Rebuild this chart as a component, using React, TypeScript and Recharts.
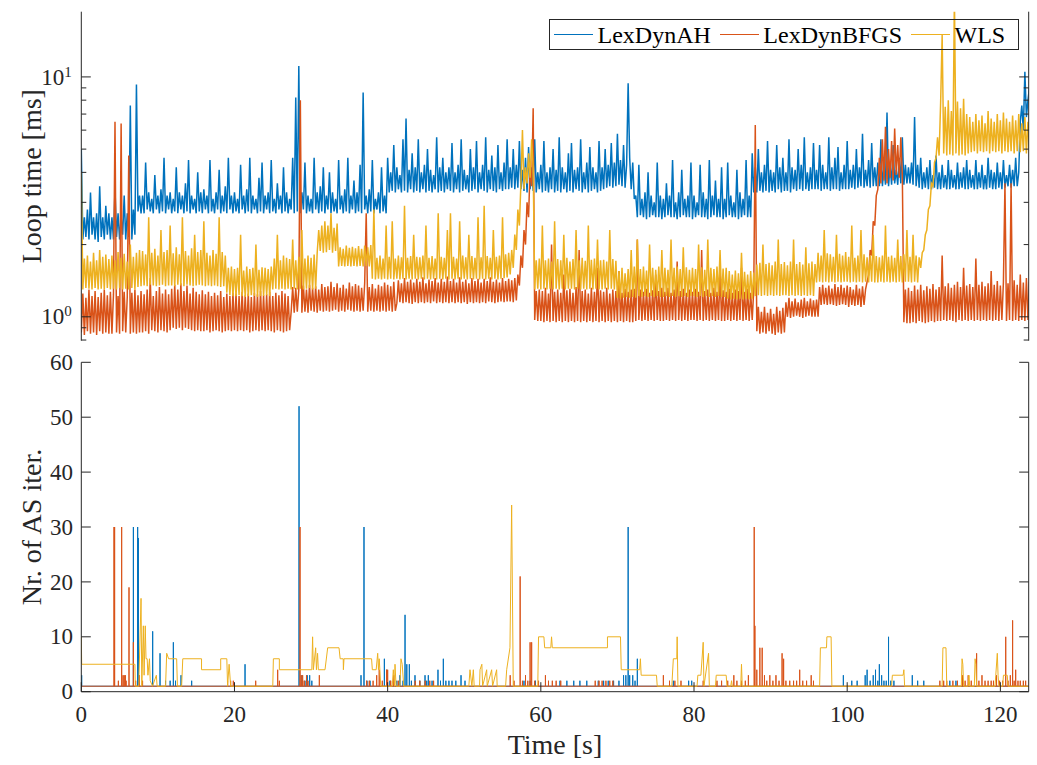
import { LineChart, Line, XAxis, YAxis, Legend } from 'recharts'

// top panel: loop time in ms, one sample every STEP seconds (20 samples per row = 4 s)
const STEP = 0.2
const T_MAX = 123.7

const LOOP_AH = [
  5.0, 2.1, 2.6, 2.15, 2.8, 2.1, 3.3, 2.2, 2.6, 2.1, 2.7, 2.05, 3.5, 2.15, 2.6, 2.1, 2.9, 2.2, 2.7, 2.1,
  2.6, 2.1, 3.4, 2.15, 2.7, 2.1, 2.6, 2.2, 3.2, 2.1, 2.7, 2.15, 7.6, 2.1, 2.8, 2.2, 9.3, 2.75, 3.2, 2.7,
  3.2, 2.7, 4.4, 2.8, 3.3, 2.75, 3.1, 2.7, 3.9, 2.8, 3.2, 2.7, 3.4, 2.75, 4.6, 2.7, 3.2, 2.8, 3.3, 2.7,
  3.1, 2.75, 4.2, 2.7, 3.3, 2.8, 3.2, 2.7, 3.6, 2.75, 4.5, 2.7, 3.2, 2.8, 3.1, 2.7, 4.0, 2.75, 3.3, 2.7,
  3.4, 2.8, 3.2, 2.7, 4.5, 2.75, 3.1, 2.7, 3.3, 2.8, 4.1, 2.7, 3.2, 2.75, 3.5, 2.7, 4.6, 2.8, 3.2, 2.7,
  3.3, 2.75, 3.1, 2.7, 4.3, 2.8, 3.2, 2.7, 3.4, 2.75, 4.6, 2.7, 3.2, 2.8, 3.1, 2.7, 3.8, 2.75, 4.4, 2.7,
  3.2, 2.8, 3.3, 2.7, 4.5, 2.75, 3.1, 2.7, 3.6, 2.8, 3.2, 2.7, 4.2, 2.75, 3.3, 2.7, 3.1, 2.8, 4.6, 2.7,
  8.2, 2.75, 11.1, 2.7, 3.3, 2.8, 4.4, 2.7, 3.2, 2.75, 3.1, 2.7, 4.6, 2.8, 3.3, 2.7, 3.5, 2.75, 4.2, 2.7,
  3.2, 2.8, 4.0, 2.7, 3.3, 2.75, 3.1, 2.7, 4.5, 2.8, 3.2, 2.7, 3.4, 2.75, 4.6, 2.7, 3.2, 2.8, 3.7, 2.7,
  3.3, 2.75, 4.3, 2.7, 8.6, 2.8, 3.2, 2.7, 3.4, 2.75, 4.5, 2.7, 3.1, 2.8, 3.3, 2.7, 4.2, 2.75, 3.2, 2.7,
  4.6, 3.3, 4.0, 3.35, 5.2, 3.3, 4.2, 3.4, 3.9, 3.3, 5.5, 3.35, 6.7, 3.3, 4.1, 3.4, 4.8, 3.3, 4.2, 3.35,
  5.5, 3.3, 4.0, 3.4, 4.3, 3.3, 5.0, 3.35, 4.1, 3.3, 3.9, 3.4, 5.6, 3.3, 4.2, 3.35, 4.6, 3.3, 4.0, 3.4,
  4.2, 3.35, 5.3, 3.3, 4.0, 3.4, 4.3, 3.3, 5.5, 3.35, 4.1, 3.4, 3.9, 3.3, 5.0, 3.35, 4.2, 3.4, 5.4, 3.3,
  4.0, 3.4, 4.3, 3.35, 5.6, 3.3, 4.1, 3.4, 4.7, 3.35, 4.2, 3.3, 5.2, 3.4, 4.0, 3.35, 4.4, 3.4, 5.5, 3.4,
  4.2, 3.45, 5.0, 3.4, 4.3, 3.45, 5.4, 3.4, 4.1, 3.35, 4.6, 3.3, 5.1, 3.4, 4.2, 3.35, 5.5, 3.3, 4.0, 3.4,
  4.3, 3.3, 5.4, 3.35, 4.0, 3.3, 4.2, 3.4, 5.0, 3.3, 4.1, 3.35, 5.6, 3.3, 4.2, 3.4, 4.0, 3.3, 4.8, 3.35,
  5.3, 3.3, 4.1, 3.4, 4.2, 3.35, 5.5, 3.3, 4.0, 3.4, 4.4, 3.3, 5.1, 3.35, 4.2, 3.4, 4.0, 3.3, 5.4, 3.35,
  4.2, 3.4, 5.0, 3.45, 4.3, 3.5, 5.3, 3.45, 4.4, 3.5, 5.8, 3.55, 4.5, 3.5, 5.2, 3.45, 4.3, 9.4, 4.6, 3.4,
  4.4, 3.1, 3.2, 2.6, 4.3, 2.65, 3.1, 2.6, 3.3, 2.55, 4.0, 2.6, 3.2, 2.65, 3.0, 2.6, 4.4, 2.6, 3.2, 2.55,
  3.1, 2.6, 3.6, 2.65, 3.2, 2.6, 4.5, 2.6, 3.0, 2.55, 3.3, 2.6, 4.1, 2.65, 3.1, 2.6, 3.2, 2.6, 4.4, 2.55,
  3.2, 2.6, 3.0, 2.65, 4.3, 2.6, 3.3, 2.6, 3.1, 2.55, 4.5, 2.6, 3.2, 2.65, 3.7, 2.6, 3.1, 2.6, 4.2, 2.55,
  3.1, 2.6, 4.4, 2.65, 3.2, 2.6, 3.0, 2.6, 4.1, 2.55, 3.3, 2.6, 3.1, 2.65, 4.5, 2.6, 3.2, 2.6, 4.8, 3.3,
  4.2, 3.3, 5.0, 3.35, 4.0, 3.3, 4.3, 3.35, 5.4, 3.3, 4.1, 3.35, 4.0, 3.3, 5.2, 3.4, 4.2, 3.3, 4.6, 3.35,
  4.0, 3.35, 5.5, 3.3, 4.2, 3.4, 4.1, 3.35, 5.0, 3.4, 4.3, 3.35, 5.6, 3.4, 4.0, 3.35, 4.2, 3.4, 5.3, 3.4,
  4.1, 3.4, 5.2, 3.35, 4.3, 3.4, 4.0, 3.4, 5.6, 3.35, 4.2, 3.4, 4.6, 3.4, 5.1, 3.35, 4.0, 3.4, 4.3, 3.4,
  5.4, 3.4, 4.1, 3.45, 4.3, 3.4, 5.0, 3.45, 4.2, 3.5, 5.8, 3.45, 4.1, 3.5, 4.5, 3.45, 5.3, 3.5, 4.2, 3.5,
  4.4, 3.5, 5.5, 3.5, 4.2, 3.55, 7.1, 3.5, 4.3, 3.55, 5.2, 3.6, 4.1, 3.55, 4.6, 3.6, 5.6, 3.55, 4.3, 3.6,
  4.2, 3.6, 4.4, 3.55, 6.8, 3.5, 4.3, 3.45, 4.6, 3.4, 4.0, 3.45, 4.2, 3.4, 4.5, 3.4, 3.9, 3.45, 4.7, 3.4,
  4.0, 3.4, 4.3, 3.45, 3.9, 3.4, 4.5, 3.4, 4.1, 3.45, 3.9, 3.4, 4.4, 3.4, 4.0, 3.45, 4.2, 3.4, 4.5, 3.4,
  4.1, 3.45, 3.9, 3.4, 4.5, 3.4, 4.0, 3.45, 4.3, 3.4, 3.9, 3.4, 4.6, 3.45, 4.1, 3.4, 4.0, 3.4, 4.4, 3.45,
  4.0, 3.4, 4.5, 3.45, 3.9, 3.5, 4.3, 3.45, 4.1, 3.5, 4.6, 3.5, 4.0, 6.5, 7.6, 6.0, 10.5, 6.8, 8.0, 9.0,
]

const LOOP_BFGS = [
  0.86, 1.25, 0.84, 1.2, 0.87, 1.3, 0.85, 1.22, 0.86, 1.28, 0.84, 1.21, 0.87, 1.26, 0.85, 1.3, 0.86, 1.23, 0.85, 1.27,
  0.85, 1.24, 6.5, 0.86, 1.22, 0.85, 6.4, 0.87, 1.27, 0.86, 1.21, 4.7, 0.85, 1.26, 0.86, 1.3, 0.85, 1.23, 0.86, 1.28,
  0.86, 1.24, 0.87, 1.3, 0.85, 1.45, 0.88, 1.22, 0.87, 1.28, 0.86, 1.33, 0.88, 1.25, 0.87, 1.3, 0.86, 1.24, 0.88, 1.31,
  0.9, 1.36, 0.89, 1.3, 0.9, 1.38, 0.88, 1.28, 0.9, 1.35, 0.89, 1.25, 0.88, 1.32, 0.87, 1.27, 0.88, 1.24, 0.87, 1.29,
  0.87, 1.24, 0.88, 1.27, 0.86, 1.22, 0.87, 1.26, 0.88, 1.23, 0.87, 1.28, 0.86, 1.21, 0.87, 1.25, 0.88, 1.22, 0.87, 1.26,
  0.88, 1.25, 0.87, 1.22, 0.88, 1.27, 0.87, 1.23, 0.88, 1.25, 0.86, 1.21, 0.87, 1.26, 0.88, 1.24, 0.87, 1.28, 0.88, 1.23,
  0.87, 1.24, 0.88, 1.27, 0.87, 1.22, 0.86, 1.26, 0.88, 1.23, 0.87, 1.28, 0.86, 1.25, 0.87, 1.22, 0.88, 1.05, 1.33, 1.04,
  1.32, 1.05, 1.3, 8.0, 1.04, 1.35, 1.05, 1.3, 1.04, 1.36, 1.06, 1.32, 1.05, 1.34, 1.04, 1.3, 1.06, 1.37, 1.05, 1.33,
  1.06, 1.34, 1.05, 1.4, 1.06, 1.33, 1.07, 1.38, 1.05, 1.32, 1.06, 1.36, 1.05, 1.31, 1.07, 1.39, 1.06, 1.34, 1.05, 1.37,
  1.06, 1.35, 1.05, 1.32, 1.06, 1.38, 2.7, 1.05, 1.33, 1.06, 1.37, 1.05, 1.31, 1.06, 1.36, 1.05, 1.34, 1.06, 1.39, 1.05,
  1.36, 1.06, 1.34, 1.05, 1.4, 1.06, 1.14, 1.42, 1.15, 1.38, 1.14, 1.45, 1.15, 1.4, 1.14, 1.43, 1.13, 1.39, 1.15, 1.44,
  1.14, 1.4, 1.15, 1.46, 1.14, 1.38, 1.15, 1.43, 1.14, 1.41, 1.16, 1.45, 1.14, 1.39, 1.15, 1.44, 1.14, 1.4, 1.15, 1.47,
  1.14, 1.41, 1.15, 1.44, 1.14, 1.39, 1.15, 1.46, 1.14, 1.4, 1.15, 1.43, 1.13, 1.38, 1.15, 1.45, 1.14, 1.41, 1.15, 1.44,
  1.14, 1.39, 1.15, 1.44, 1.14, 1.41, 1.16, 1.46, 1.15, 1.4, 1.14, 1.43, 1.15, 1.39, 1.16, 1.45, 1.15, 1.41, 1.16, 1.44,
  1.16, 1.42, 1.15, 1.45, 1.17, 1.5, 1.35, 1.8, 1.6, 2.3, 2.0, 3.0, 2.6, 4.2, 3.5, 7.4, 0.97, 1.28, 0.96, 1.3,
  0.96, 1.28, 0.95, 1.32, 0.96, 1.25, 0.95, 2.0, 0.96, 1.27, 0.95, 1.3, 0.96, 1.26, 0.95, 1.5, 0.96, 1.29, 0.95, 1.31,
  0.96, 1.26, 0.95, 1.33, 0.96, 1.9, 0.95, 1.28, 0.96, 1.3, 0.95, 1.25, 0.96, 1.32, 0.95, 1.27, 0.96, 1.6, 0.95, 1.29,
  0.96, 1.27, 0.95, 1.32, 0.96, 1.25, 0.95, 1.3, 0.96, 1.28, 0.95, 1.55, 0.96, 1.26, 0.95, 1.31, 0.96, 1.27, 0.95, 1.3,
  0.95, 1.31, 0.96, 2.1, 0.97, 1.3, 0.96, 1.27, 0.97, 1.31, 0.96, 1.26, 0.97, 1.29, 0.96, 1.5, 0.97, 1.28, 0.96, 1.32,
  0.96, 1.27, 0.97, 1.32, 0.96, 1.26, 0.97, 1.3, 0.96, 1.7, 0.97, 1.28, 0.96, 1.31, 0.97, 1.26, 0.96, 1.3, 0.97, 1.27,
  0.97, 1.31, 0.96, 1.27, 0.97, 1.9, 0.96, 1.28, 0.97, 1.3, 0.96, 1.26, 0.97, 1.32, 0.96, 1.27, 0.97, 1.55, 0.96, 1.29,
  0.96, 1.27, 0.97, 1.31, 0.96, 1.26, 0.97, 1.3, 0.96, 1.28, 0.97, 1.6, 0.96, 1.27, 0.97, 1.31, 0.96, 1.26, 0.97, 1.3,
  6.3, 0.87, 1.1, 0.85, 1.05, 0.86, 1.1, 0.85, 1.04, 0.87, 1.08, 0.85, 1.03, 0.84, 1.1, 0.86, 1.06, 0.85, 1.09, 0.86,
  1.15, 1.0, 1.2, 0.99, 1.16, 1.0, 1.19, 1.01, 1.15, 1.0, 1.18, 0.99, 1.2, 1.0, 1.16, 1.01, 1.19, 1.0, 1.17, 1.0,
  1.18, 1.0, 1.33, 1.12, 1.36, 1.13, 1.32, 1.12, 1.35, 1.13, 1.31, 1.12, 1.37, 1.11, 1.33, 1.12, 1.36, 1.13, 1.32, 1.12,
  1.35, 1.1, 1.33, 1.12, 1.3, 1.11, 1.36, 1.12, 1.31, 1.1, 1.34, 1.12, 1.3, 1.4, 1.5, 1.9, 1.8, 2.5, 2.4, 3.2,
  3.4, 4.6, 3.6, 5.5, 3.7, 6.2, 3.6, 5.0, 3.8, 5.4, 3.7, 6.1, 3.9, 5.2, 3.8, 5.6, 3.9, 0.95, 1.3, 0.94,
  1.32, 0.94, 1.28, 0.95, 1.35, 0.94, 1.3, 0.96, 1.36, 0.95, 1.29, 0.94, 1.34, 0.95, 1.31, 0.96, 1.37, 0.95, 1.3, 0.96,
  1.33, 0.96, 1.8, 0.97, 1.34, 0.96, 1.38, 0.97, 1.32, 0.96, 1.36, 0.95, 1.4, 0.97, 1.33, 0.96, 1.6, 0.97, 1.35, 0.96,
  1.37, 0.97, 1.33, 0.96, 1.75, 0.97, 1.36, 0.96, 1.4, 0.97, 1.34, 0.96, 1.38, 0.97, 1.55, 0.96, 1.36, 0.97, 1.41, 0.96,
  1.35, 0.97, 1.4, 3.6, 0.96, 1.38, 0.97, 3.6, 0.96, 1.42, 0.97, 1.36, 0.96, 1.5, 0.97, 1.39, 0.96, 1.45, 0.97, 1.4,
]

const LOOP_WLS = [
  4.0, 1.3, 1.75, 1.32, 1.8, 1.31, 1.7, 1.3, 1.85, 1.32, 1.72, 1.3, 1.9, 1.31, 1.78, 1.3, 1.82, 1.32, 1.74, 1.3,
  1.8, 1.31, 1.72, 1.3, 1.86, 1.32, 1.76, 1.3, 1.83, 1.31, 1.7, 1.3, 2.0, 1.32, 1.78, 1.3, 1.85, 1.33, 1.9, 1.34,
  1.88, 1.35, 1.82, 1.34, 2.6, 1.36, 1.85, 1.35, 1.92, 1.34, 1.8, 1.35, 2.3, 1.36, 1.86, 1.34, 1.9, 1.35, 2.4, 1.35,
  1.84, 1.34, 1.95, 1.36, 1.82, 1.35, 2.6, 1.34, 1.88, 1.36, 1.8, 1.35, 1.93, 1.34, 2.2, 1.35, 1.86, 1.36, 1.9, 1.35,
  2.5, 1.34, 1.85, 1.35, 1.8, 1.34, 1.9, 1.35, 1.83, 1.34, 2.6, 1.33, 1.86, 1.34, 1.8, 1.26, 1.6, 1.23, 1.62, 1.22,
  1.58, 1.22, 1.6, 1.23, 2.2, 1.22, 1.56, 1.21, 1.62, 1.22, 1.58, 1.23, 1.6, 1.22, 2.0, 1.21, 1.57, 1.22, 1.61, 1.22,
  1.6, 1.23, 1.58, 1.22, 1.62, 1.3, 1.75, 1.31, 2.2, 1.3, 1.72, 1.31, 1.8, 1.3, 1.76, 1.31, 1.74, 1.3, 2.1, 1.31,
  1.72, 1.3, 1.78, 1.31, 2.3, 1.3, 1.75, 1.31, 1.8, 1.32, 1.76, 1.3, 1.82, 1.31, 1.85, 2.3, 1.88, 2.4, 1.85, 2.5,
  1.86, 2.4, 1.9, 2.7, 1.85, 2.35, 1.88, 2.45, 1.62, 1.95, 1.63, 1.92, 1.62, 1.98, 1.63, 1.94, 1.62, 1.96, 1.63, 1.93,
  1.62, 1.97, 1.63, 1.92, 1.62, 1.98, 1.63, 1.95, 1.62, 1.99, 1.44, 2.8, 1.43, 1.76, 1.44, 1.8, 1.43, 1.75, 1.44, 2.4,
  1.43, 1.78, 1.44, 2.5, 1.43, 1.75, 1.44, 1.8, 1.43, 1.77, 1.44, 2.9, 1.43, 1.76, 1.44, 1.79, 1.43, 2.2, 1.44, 1.78,
  1.43, 1.77, 1.44, 1.8, 1.43, 2.4, 1.44, 1.76, 1.43, 1.79, 1.44, 1.75, 1.43, 2.7, 1.44, 1.78, 1.43, 1.76, 1.44, 2.3,
  1.43, 2.7, 1.44, 1.78, 1.43, 1.75, 1.44, 2.5, 1.43, 1.8, 1.44, 1.77, 1.43, 2.2, 1.44, 1.79, 1.43, 1.76, 1.44, 2.6,
  1.43, 1.77, 1.44, 2.9, 1.43, 1.79, 1.44, 1.76, 1.43, 2.3, 1.44, 1.78, 1.43, 1.8, 1.44, 2.6, 1.45, 1.82, 1.46, 1.85,
  1.5, 1.9, 1.6, 2.2, 1.9, 2.8, 2.4, 3.6, 6.0, 3.4, 4.2, 3.6, 4.8, 3.8, 5.5, 4.2, 1.3, 1.72, 1.31, 1.75,
  1.3, 2.4, 1.31, 1.72, 1.3, 1.75, 1.31, 1.7, 1.3, 2.5, 1.31, 1.74, 1.3, 1.72, 1.31, 2.2, 1.3, 1.76, 1.31, 1.7,
  1.31, 1.74, 1.3, 2.3, 1.31, 1.72, 1.3, 1.76, 1.31, 1.71, 1.3, 2.4, 1.31, 1.73, 1.3, 1.75, 1.31, 2.1, 1.3, 1.72,
  1.3, 1.73, 1.31, 1.7, 1.3, 2.3, 1.31, 1.74, 1.3, 1.71, 1.2, 1.55, 1.19, 1.6, 1.2, 1.52, 1.21, 1.58, 1.2, 1.9,
  1.21, 1.62, 1.2, 2.1, 1.22, 1.58, 1.21, 1.62, 1.22, 1.56, 1.21, 2.0, 1.22, 1.6, 1.21, 1.57, 1.22, 1.62, 1.21, 1.9,
  1.21, 1.6, 1.22, 1.57, 1.21, 2.1, 1.22, 1.6, 1.21, 1.62, 1.22, 1.58, 1.21, 1.95, 1.22, 1.61, 1.21, 1.57, 1.22, 1.6,
  1.22, 1.58, 1.21, 2.0, 1.22, 1.61, 1.21, 1.57, 1.22, 2.1, 1.21, 1.6, 1.22, 1.58, 1.21, 1.62, 1.22, 1.9, 1.21, 1.59,
  1.21, 1.6, 1.19, 1.55, 1.18, 1.5, 1.19, 1.56, 1.18, 1.52, 1.19, 1.85, 1.18, 1.54, 1.19, 1.5, 1.18, 1.55, 1.19, 1.53,
  1.22, 1.65, 1.23, 1.68, 1.22, 2.0, 1.23, 1.66, 1.22, 1.68, 1.23, 1.64, 1.22, 1.7, 1.23, 2.1, 1.22, 1.66, 1.23, 1.69,
  1.23, 1.64, 1.22, 1.7, 1.23, 2.1, 1.22, 1.66, 1.23, 1.69, 1.22, 1.65, 1.23, 1.95, 1.22, 1.67, 1.23, 1.7, 1.22, 1.66,
  1.39, 1.85, 1.4, 1.8, 1.39, 2.3, 1.4, 1.84, 1.39, 1.82, 1.4, 1.78, 1.39, 2.2, 1.4, 1.83, 1.39, 1.8, 1.4, 1.86,
  1.4, 1.78, 1.39, 2.4, 1.4, 1.76, 1.39, 1.8, 1.4, 2.3, 1.39, 1.82, 1.4, 1.77, 1.39, 1.8, 1.4, 2.2, 1.39, 1.79,
  1.39, 1.77, 1.4, 1.8, 1.39, 2.4, 1.4, 1.78, 1.39, 1.8, 1.4, 1.76, 1.39, 2.1, 1.4, 1.79, 1.39, 1.82, 1.4, 2.3,
  1.4, 1.78, 1.39, 2.2, 1.4, 1.8, 1.39, 1.77, 1.6, 1.85, 1.9, 2.2, 2.3, 2.8, 2.9, 3.6, 3.5, 4.4, 4.6, 5.6,
  4.7, 7.8, 15.0, 4.8, 7.5, 4.7, 8.0, 4.75, 7.2, 4.7, 22, 4.8, 7.9, 4.7, 7.4, 4.75, 8.1, 4.7, 7.0, 4.8,
  6.8, 4.85, 6.5, 4.9, 7.0, 4.8, 6.6, 4.9, 6.9, 4.85, 6.4, 4.9, 7.2, 4.8, 6.7, 4.9, 6.5, 4.85, 7.0, 4.9,
  6.6, 4.8, 7.1, 4.9, 6.7, 4.85, 6.5, 4.9, 6.9, 4.8, 6.6, 4.9, 7.0, 4.85, 6.4, 4.9, 6.8, 4.8, 6.5, 4.9,
]

// bottom panel: [time s, AS iterations] spikes above the resting value of 1
const AS_AH: [number, number][] = [
  [0.05, 3], [6.8, 30], [7.36, 30], [7.45, 28], [9.32, 11], [10.28, 7], [11.0, 2], [11.6, 2],
  [12.02, 9], [12.3, 2], [13.02, 3], [14.41, 2], [21.38, 5], [28.43, 52], [28.8, 3], [29.2, 2],
  [29.5, 3], [29.82, 3], [30.1, 2], [36.52, 3], [36.91, 30], [37.3, 2], [37.7, 2], [39.57, 6],
  [39.87, 4], [40.3, 2], [41.2, 2], [41.6, 3], [42.0, 2], [42.27, 14], [42.5, 5], [42.83, 5],
  [43.1, 2], [43.57, 3], [44.2, 2], [44.88, 3], [45.1, 2], [45.31, 3], [45.8, 2], [46.57, 4],
  [46.9, 2], [47.27, 6], [47.6, 2], [48.0, 2], [48.4, 2], [48.9, 2], [49.58, 3], [50.1, 2],
  [57.8, 2], [58.6, 2], [59.3, 2], [62.5, 2], [63.4, 2], [64.3, 2], [65.1, 2], [66.0, 2],
  [67.5, 2], [68.2, 2], [68.8, 2], [69.5, 2], [70.2, 2], [70.8, 3], [71.1, 3], [71.4, 30],
  [71.6, 3], [72.0, 3], [72.3, 2], [72.6, 6], [77.3, 2], [79.3, 2], [79.7, 2], [99.5, 3],
  [100.6, 2], [101.3, 2], [102.35, 3], [102.6, 4], [103.0, 2], [103.4, 3], [103.7, 4], [104.0, 2],
  [104.2, 5], [104.5, 3], [104.8, 2], [105.1, 2], [105.4, 10], [105.7, 2], [106.1, 2], [108.5, 3],
  [109.2, 2], [110.0, 2], [113.4, 2], [114.2, 2],
]

const AS_BFGS: [number, number][] = [
  [4.27, 30], [4.35, 30], [4.84, 2], [5.27, 30], [5.45, 3], [5.6, 3], [5.75, 3], [5.85, 2],
  [6.23, 19], [6.8, 9], [7.1, 2], [7.6, 3], [8.0, 2], [19.1, 2], [19.5, 2], [19.85, 2],
  [22.77, 2], [25.64, 4], [25.86, 2], [28.56, 30], [28.7, 3], [28.9, 3], [29.1, 2], [29.4, 3],
  [29.6, 2], [31.08, 3], [37.26, 2], [37.6, 2], [38.1, 2], [38.57, 3], [38.9, 4], [39.3, 2],
  [39.87, 4], [40.0, 4], [40.4, 2], [40.8, 3], [41.4, 2], [43.6, 2], [44.2, 2], [44.9, 2],
  [45.5, 2], [46.0, 2], [56.0, 3], [56.5, 2], [57.3, 21], [57.6, 2], [58.0, 3], [58.3, 2],
  [58.6, 9], [58.8, 9], [59.2, 2], [59.7, 2], [60.6, 3], [61.0, 2], [61.5, 2], [62.0, 2],
  [62.6, 2], [67.1, 2], [67.6, 2], [68.0, 2], [68.5, 2], [69.0, 2], [69.4, 2], [76.0, 3],
  [76.8, 2], [77.5, 2], [78.3, 2], [81.2, 2], [83.0, 2], [83.6, 2], [84.4, 2], [85.2, 3],
  [85.6, 2], [86.2, 2], [86.7, 2], [87.1, 3], [87.86, 30], [87.95, 12], [88.2, 4], [88.6, 8],
  [88.9, 8], [89.2, 3], [89.5, 2], [89.9, 3], [90.3, 2], [90.7, 3], [91.1, 2], [91.5, 7],
  [91.7, 6], [92.0, 2], [92.5, 2], [93.0, 2], [93.4, 2], [93.8, 4], [94.2, 2], [94.7, 2],
  [95.3, 3], [95.6, 2], [112.1, 2], [112.6, 2], [113.0, 2], [113.8, 2], [114.4, 2], [115.05, 3],
  [115.4, 2], [115.8, 3], [116.2, 2], [116.9, 7], [117.2, 2], [117.6, 3], [118.0, 2], [118.4, 2],
  [118.8, 2], [119.1, 2], [119.5, 3], [119.9, 2], [120.3, 2], [120.7, 10], [121.0, 2], [121.3, 3],
  [121.6, 13], [121.8, 2], [122.0, 4], [122.3, 2], [122.6, 2], [123.0, 2], [123.3, 2],
]

// WLS traced as a polyline of [time s, iterations]
const AS_WLS: [number, number][] = [
  [0, 10], [0.05, 5], [7.0, 5], [7.05, 1], [7.5, 1], [7.8, 17], [7.9, 1], [8.1, 12], [8.2, 3],
  [8.35, 12], [8.45, 6], [8.6, 6], [8.7, 3], [8.9, 6], [9.0, 2], [9.3, 1], [9.8, 3], [9.9, 1],
  [11.0, 1], [11.15, 7], [11.4, 6], [12.45, 6], [12.55, 1], [13.1, 1], [13.25, 6], [15.7, 6],
  [15.7, 4], [18.2, 4], [18.2, 6], [19.0, 6], [19.1, 1], [19.3, 5], [19.5, 1], [25.0, 1],
  [25.08, 6], [25.86, 6], [25.86, 4], [30.1, 4], [30.2, 10], [30.3, 4], [30.6, 8], [30.7, 4],
  [30.85, 7], [30.95, 4], [31.82, 4], [32.17, 8], [33.65, 8], [33.8, 6], [34.2, 6], [34.22, 4],
  [34.3, 6], [37.9, 6], [38.0, 4], [38.5, 4], [38.7, 7], [38.8, 4], [38.9, 6], [39.1, 1],
  [40.6, 1], [40.74, 4], [40.9, 1], [40.96, 5], [41.1, 1], [41.6, 1], [41.74, 6], [41.9, 5],
  [42.1, 1], [50.6, 1], [50.75, 4], [51.0, 1], [51.19, 4], [51.3, 1], [52.0, 1], [52.06, 4],
  [52.3, 5], [52.4, 1], [52.93, 4], [53.0, 1], [53.58, 4], [53.7, 1], [54.23, 4], [54.3, 1],
  [55.4, 1], [55.54, 4], [55.97, 8], [56.19, 34], [56.4, 1], [59.6, 1], [59.7, 10], [60.4, 10],
  [60.5, 8], [61.3, 8], [61.4, 10], [61.5, 8], [68.7, 8], [68.7, 10], [70.4, 10], [70.5, 4],
  [72.9, 4], [73.0, 6], [73.1, 3], [75.1, 3], [75.2, 1], [77.1, 1], [77.3, 6], [77.75, 6],
  [77.8, 10], [77.9, 1], [80.4, 1], [80.5, 3], [80.9, 3], [81.2, 9], [81.3, 1], [81.9, 7],
  [82.0, 1], [82.8, 1], [82.9, 3], [84.2, 3], [84.3, 1], [84.8, 1], [84.9, 2], [85.0, 1],
  [86.1, 1], [86.2, 5], [86.3, 1], [96.4, 1], [96.5, 8], [97.3, 8], [97.35, 10], [97.9, 10],
  [98.0, 1], [105.8, 1], [105.9, 3], [107.3, 3], [107.4, 4], [107.5, 1], [112.4, 1], [112.5, 8],
  [112.9, 8], [113.0, 1], [114.9, 1], [115.0, 6], [115.1, 5], [115.2, 1], [115.8, 1], [115.9, 3],
  [116.0, 1], [116.6, 1], [116.7, 6], [116.8, 5], [116.9, 1], [119.3, 1], [119.4, 3], [119.6, 7],
  [119.7, 3], [119.8, 1], [120.3, 1], [120.4, 3], [120.9, 3], [121.0, 1], [123.7, 1],
]

const NAMES = ['LexDynAH', 'LexDynBFGS', 'WLS']
const COLORS = ['#0072BD', '#D95319', '#EDB120']

const LOG_TICKS = [0.8, 0.9, 1, 2, 3, 4, 5, 6, 7, 8, 9, 10]
const LOG_MAJOR = [1, 10]
const X_TICKS = [0, 20, 40, 60, 80, 100, 120]
const Y_TICKS = [0, 10, 20, 30, 40, 50, 60]

const FONT = '"Liberation Serif", "DejaVu Serif", serif'
const AXIS = '#262626'
const TICK = 9.5
const MINOR = 5
const BAND_WIDTH = 1.5 // dense loop-time traces

const topData = LOOP_AH.map((ah, i) => ({
  t: i * STEP,
  ah,
  bfgs: LOOP_BFGS[i],
  wls: LOOP_WLS[i],
}))

function spikes(list: [number, number][]) {
  const out = [{ t: 0, v: 1 }]
  list.forEach(([t, h]) => out.push({ t, v: 1 }, { t, v: h }, { t, v: 1 }))
  out.push({ t: T_MAX, v: 1 })
  return out
}
const asAh = spikes(AS_AH)
const asBfgs = spikes(AS_BFGS)
const asWls = AS_WLS.map(([t, v]) => ({ t, v }))

const LogTickLeft = ({ x, y, payload }: any) => {
  const major = LOG_MAJOR.includes(payload.value)
  return (
    <g>
      <line x1={x} x2={x + (major ? TICK : MINOR)} y1={y} y2={y} stroke={AXIS} />
      {major && (
        <text x={x - 9.6} y={y + 7.6} textAnchor="end" fontFamily={FONT} fontSize={23} fill={AXIS}>
          <tspan>10</tspan>
          <tspan dy={-8} fontSize={15}>{Math.round(Math.log10(payload.value))}</tspan>
        </text>
      )}
    </g>
  )
}

const LogTickRight = ({ x, y, payload }: any) => {
  const major = LOG_MAJOR.includes(payload.value)
  return <line x1={x} x2={x - (major ? TICK : MINOR)} y1={y} y2={y} stroke={AXIS} />
}

const LinTickLeft = ({ x, y, payload }: any) => (
  <g>
    <line x1={x} x2={x + TICK} y1={y} y2={y} stroke={AXIS} />
    <text x={x - 8.3} y={y + 7.6} textAnchor="end" fontFamily={FONT} fontSize={23} fill={AXIS}>
      {payload.value}
    </text>
  </g>
)

const LinTickRight = ({ x, y }: any) => <line x1={x} x2={x - TICK} y1={y} y2={y} stroke={AXIS} />

const TimeTickBottom = ({ x, y, payload }: any) => (
  <g>
    <line x1={x} x2={x} y1={y} y2={y - TICK} stroke={AXIS} />
    <text x={x} y={y + 30.5} textAnchor="middle" fontFamily={FONT} fontSize={23} fill={AXIS}>
      {payload.value}
    </text>
  </g>
)

const TimeTickTop = ({ x, y }: any) => <line x1={x} x2={x} y1={y} y2={y + TICK} stroke={AXIS} />

function VTitle({ viewBox, text, x }: any) {
  const cy = viewBox.y + viewBox.height / 2
  return (
    <text x={x} y={cy} transform={`rotate(-90 ${x} ${cy})`} textAnchor="middle"
      fontFamily={FONT} fontSize={28} fill={AXIS}>
      {text}
    </text>
  )
}

function HTitle({ viewBox, text }: any) {
  return (
    <text x={viewBox.x + viewBox.width / 2} y={viewBox.y + 62} textAnchor="middle"
      fontFamily={FONT} fontSize={28} fill={AXIS}>
      {text}
    </text>
  )
}

function LegendBox({ payload }: any) {
  return (
    <div style={{
      boxSizing: 'border-box', width: 470, height: 31, border: `1px solid ${AXIS}`,
      display: 'flex', alignItems: 'center', paddingLeft: 4,
      fontFamily: FONT, fontSize: 24, lineHeight: 1, color: '#000',
    }}>
      {(payload ?? []).map((p: any, i: number) => (
        <div key={p.value} style={{ display: 'flex', alignItems: 'center', marginLeft: i ? 9 : 0 }}>
          <svg width={39} height={3}>
            <line x1={0} x2={39} y1={1.5} y2={1.5} stroke={p.color} strokeWidth={1} />
          </svg>
          <span style={{ marginLeft: 4.5 }}>{p.value}</span>
        </div>
      ))}
    </div>
  )
}

export default function App() {
  const axisLine = { stroke: AXIS, strokeWidth: 1 }
  return (
    <div style={{ position: 'absolute', left: 0, top: 0, width: 1037, height: 765, background: '#fff' }}>
      <div style={{ position: 'absolute', left: 0, top: 0 }}>
        <LineChart width={1037} height={352} data={topData}
          margin={{ top: 11.7, right: 0, bottom: 11.3, left: 0 }}>
          <XAxis xAxisId="b" dataKey="t" type="number" domain={[0, T_MAX]} allowDataOverflow
            height={0} tick={false} tickLine={false} axisLine={axisLine} />
          <XAxis xAxisId="t" orientation="top" dataKey="t" type="number" domain={[0, T_MAX]} allowDataOverflow
            height={0} tick={false} tickLine={false} axisLine={axisLine} />
          <YAxis yAxisId="l" scale="log" type="number" domain={[0.795, 18.7]} allowDataOverflow
            ticks={LOG_TICKS} interval={0} width={81.3} tickSize={0} tickMargin={0} tickLine={false}
            axisLine={axisLine} tick={(p: any) => <LogTickLeft {...p} />}
            label={<VTitle text="Loop time [ms]" x={28} />} />
          <YAxis yAxisId="r" orientation="right" scale="log" type="number" domain={[0.795, 18.7]} allowDataOverflow
            ticks={LOG_TICKS} interval={0} width={8.3} tickSize={0} tickMargin={0} tickLine={false}
            axisLine={axisLine} tick={(p: any) => <LogTickRight {...p} />} />
          <Line xAxisId="b" yAxisId="l" dataKey="ah" name={NAMES[0]} stroke={COLORS[0]} strokeWidth={BAND_WIDTH}
            dot={false} isAnimationActive={false} />
          <Line xAxisId="b" yAxisId="l" dataKey="bfgs" name={NAMES[1]} stroke={COLORS[1]} strokeWidth={BAND_WIDTH}
            dot={false} isAnimationActive={false} />
          <Line xAxisId="b" yAxisId="l" dataKey="wls" name={NAMES[2]} stroke={COLORS[2]} strokeWidth={BAND_WIDTH}
            dot={false} isAnimationActive={false} />
          <Legend layout="horizontal" verticalAlign="middle" align="center" content={LegendBox}
            wrapperStyle={{ top: 19, left: 549, width: 470, height: 31 }} />
        </LineChart>
      </div>
      <div style={{ position: 'absolute', left: 0, top: 330 }}>
        <LineChart width={1037} height={435} margin={{ top: 32.3, right: 0, bottom: 13.3, left: 0 }}>
          <XAxis xAxisId="b" dataKey="t" type="number" domain={[0, T_MAX]} allowDataOverflow
            ticks={X_TICKS} interval={0} height={60} tickSize={0} tickMargin={0} tickLine={false}
            axisLine={axisLine} tick={(p: any) => <TimeTickBottom {...p} />}
            label={<HTitle text="Time [s]" />} />
          <XAxis xAxisId="t" orientation="top" dataKey="t" type="number" domain={[0, T_MAX]} allowDataOverflow
            ticks={X_TICKS} interval={0} height={0} tickSize={0} tickMargin={0} tickLine={false}
            axisLine={axisLine} tick={(p: any) => <TimeTickTop {...p} />} />
          <YAxis yAxisId="l" type="number" domain={[0, 60]} allowDataOverflow ticks={Y_TICKS} interval={0}
            width={81.3} tickSize={0} tickMargin={0} tickLine={false} axisLine={axisLine}
            tick={(p: any) => <LinTickLeft {...p} />}
            label={<VTitle text="Nr. of AS iter." x={38} />} />
          <YAxis yAxisId="r" orientation="right" type="number" domain={[0, 60]} allowDataOverflow
            ticks={Y_TICKS} interval={0} width={8.3} tickSize={0} tickMargin={0} tickLine={false}
            axisLine={axisLine} tick={(p: any) => <LinTickRight {...p} />} />
          <Line xAxisId="b" yAxisId="l" data={asAh} dataKey="v" name={NAMES[0]} stroke={COLORS[0]}
            strokeWidth={1} dot={false} isAnimationActive={false} />
          <Line xAxisId="b" yAxisId="l" data={asBfgs} dataKey="v" name={NAMES[1]} stroke={COLORS[1]}
            strokeWidth={1} dot={false} isAnimationActive={false} />
          <Line xAxisId="b" yAxisId="l" data={asWls} dataKey="v" name={NAMES[2]} stroke={COLORS[2]}
            strokeWidth={1} dot={false} isAnimationActive={false} />
        </LineChart>
      </div>
    </div>
  )
}
